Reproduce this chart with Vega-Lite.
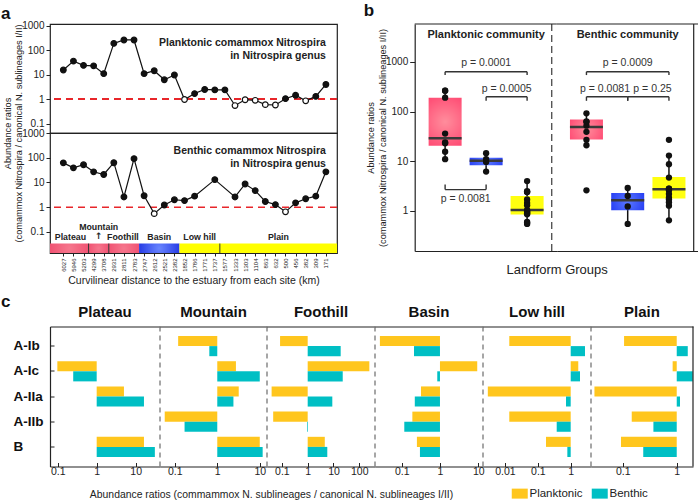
{
  "$schema": "https://vega.github.io/schema/vega-lite/v6.json",
  "padding": {"left": 1, "top": 1, "right": 0, "bottom": 0},
  "background": "white",
  "config": {
    "font": "Liberation Sans",
    "view": {"stroke": "#222", "strokeWidth": 1.2},
    "axis": {"labelFont": "Liberation Sans", "titleFont": "Liberation Sans", "labelColor": "#222", "tickColor": "#222", "domainColor": "#222", "titleColor": "#222", "grid": false, "titleFontWeight": "normal", "labelFontSize": 10, "titleFontSize": 10, "labelOverlap": false},
    "title": {"font": "Liberation Sans", "color": "#111"},
    "legend": {"labelFont": "Liberation Sans"}
  },
  "datasets": {
    "sites": [
      {"idx":1,"km":6027,"land":"Plateau","g":1,"P":15.5,"B":62},
      {"idx":2,"km":5946,"land":"Plateau","g":1,"P":36,"B":39},
      {"idx":3,"km":5203,"land":"Plateau","g":1,"P":24,"B":52},
      {"idx":4,"km":4299,"land":"Mountain","g":1,"P":23,"B":27},
      {"idx":5,"km":3708,"land":"Mountain","g":1,"P":11,"B":21},
      {"idx":6,"km":2931,"land":"Foothill","g":1,"P":190,"B":63},
      {"idx":7,"km":2811,"land":"Foothill","g":1,"P":262,"B":2.6},
      {"idx":8,"km":2783,"land":"Foothill","g":1,"P":262,"B":92},
      {"idx":9,"km":2747,"land":"Basin","g":2,"P":11,"B":2.9},
      {"idx":10,"km":2612,"land":"Basin","g":2,"P":14.5,"B":0.55},
      {"idx":11,"km":2521,"land":"Basin","g":2,"P":6.2,"B":1.23},
      {"idx":12,"km":2382,"land":"Basin","g":2,"P":9.7,"B":2.0},
      {"idx":13,"km":1852,"land":"Low hill","g":3,"P":0.97,"B":1.85},
      {"idx":14,"km":1786,"land":"Low hill","g":3,"P":1.7,"B":2.8},
      {"idx":15,"km":1771,"land":"Low hill","g":3,"P":2.5,"B":null},
      {"idx":16,"km":1737,"land":"Low hill","g":3,"P":2.4,"B":13},
      {"idx":17,"km":1577,"land":"Plain","g":3,"P":2.4,"B":null},
      {"idx":18,"km":1333,"land":"Plain","g":3,"P":0.55,"B":2.6},
      {"idx":19,"km":1303,"land":"Plain","g":3,"P":0.95,"B":8.7},
      {"idx":20,"km":1104,"land":"Plain","g":3,"P":0.9,"B":4.7},
      {"idx":21,"km":863,"land":"Plain","g":3,"P":0.6,"B":1.7},
      {"idx":22,"km":632,"land":"Plain","g":3,"P":0.58,"B":1.28},
      {"idx":23,"km":500,"land":"Plain","g":3,"P":1.05,"B":0.65},
      {"idx":24,"km":456,"land":"Plain","g":3,"P":1.45,"B":1.5},
      {"idx":25,"km":382,"land":"Plain","g":3,"P":0.86,"B":2.2},
      {"idx":26,"km":309,"land":"Plain","g":3,"P":1.3,"B":2.8},
      {"idx":27,"km":171,"land":"Plain","g":3,"P":4.0,"B":27}
    ],
    "land": [
      {"land":"Plateau","s":-0.32,"e":3.5,"m":1.7},
      {"land":"Mountain","s":3.5,"e":5.5,"m":4.5},
      {"land":"Foothill","s":5.5,"e":8.5,"m":6.9},
      {"land":"Basin","s":8.5,"e":12.5,"m":10.5},
      {"land":"Low hill","s":12.5,"e":16.5,"m":14.5},
      {"land":"Plain","s":16.5,"e":28.1,"m":22.3}
    ],
    "boxes": [
      {"comm":"P","g":1,"lo":11,"q1":20.4,"med":29,"q3":190,"hi":262},
      {"comm":"P","g":2,"lo":6.2,"q1":8.3,"med":10.2,"q3":11.7,"hi":14.5},
      {"comm":"P","g":3,"lo":0.55,"q1":0.85,"med":1.05,"q3":2.0,"hi":4.0},
      {"comm":"B","g":1,"lo":21,"q1":27.5,"med":49,"q3":69,"hi":92},
      {"comm":"B","g":2,"lo":0.55,"q1":1.04,"med":1.64,"q3":2.3,"hi":2.9},
      {"comm":"B","g":3,"lo":0.65,"q1":1.78,"med":2.75,"q3":4.8,"hi":13}
    ],
    "brackets": [
      {"comm":"P","x1":1,"x2":3,"xm":2,"y":630,"yt":540,"ly":955,"label":"p = 0.0001"},
      {"comm":"P","x1":2,"x2":3,"xm":2.5,"y":198,"yt":164,"ly":286,"label":"p = 0.0005"},
      {"comm":"P","x1":1,"x2":2,"xm":1.5,"y":2.69,"yt":3.39,"ly":1.74,"label":"p = 0.0081"},
      {"comm":"B","x1":1,"x2":3,"xm":2,"y":630,"yt":540,"ly":955,"label":"p = 0.0009"},
      {"comm":"B","x1":1,"x2":2,"xm":1.45,"y":198,"yt":164,"ly":286,"label":"p = 0.0081"},
      {"comm":"B","x1":2,"x2":3,"xm":2.6,"y":198,"yt":164,"ly":286,"label":"p = 0.25"}
    ],
    "cdata": [
      {"land":"Plateau","sub":"A-Ic","comm":"Planktonic","v":0.098},
      {"land":"Plateau","sub":"A-Ic","comm":"Benthic","v":0.25},
      {"land":"Plateau","sub":"A-IIa","comm":"Planktonic","v":5.0},
      {"land":"Plateau","sub":"A-IIa","comm":"Benthic","v":16.3},
      {"land":"Plateau","sub":"B","comm":"Planktonic","v":16.3},
      {"land":"Plateau","sub":"B","comm":"Benthic","v":31},
      {"land":"Mountain","sub":"A-Ib","comm":"Planktonic","v":0.12},
      {"land":"Mountain","sub":"A-Ib","comm":"Benthic","v":0.65},
      {"land":"Mountain","sub":"A-Ic","comm":"Planktonic","v":2.75},
      {"land":"Mountain","sub":"A-Ic","comm":"Benthic","v":10},
      {"land":"Mountain","sub":"A-IIa","comm":"Planktonic","v":3.2},
      {"land":"Mountain","sub":"A-IIa","comm":"Benthic","v":2.4},
      {"land":"Mountain","sub":"A-IIb","comm":"Planktonic","v":0.058},
      {"land":"Mountain","sub":"A-IIb","comm":"Benthic","v":0.17},
      {"land":"Mountain","sub":"B","comm":"Planktonic","v":10},
      {"land":"Mountain","sub":"B","comm":"Benthic","v":11.7},
      {"land":"Foothill","sub":"A-Ib","comm":"Planktonic","v":0.085},
      {"land":"Foothill","sub":"A-Ib","comm":"Benthic","v":19},
      {"land":"Foothill","sub":"A-Ic","comm":"Planktonic","v":245},
      {"land":"Foothill","sub":"A-Ic","comm":"Benthic","v":22.8},
      {"land":"Foothill","sub":"A-IIa","comm":"Planktonic","v":0.04},
      {"land":"Foothill","sub":"A-IIa","comm":"Benthic","v":9},
      {"land":"Foothill","sub":"A-IIb","comm":"Planktonic","v":0.046},
      {"land":"Foothill","sub":"A-IIb","comm":"Benthic","v":0.94},
      {"land":"Foothill","sub":"B","comm":"Planktonic","v":4.6},
      {"land":"Foothill","sub":"B","comm":"Benthic","v":5.75},
      {"land":"Basin","sub":"A-Ib","comm":"Planktonic","v":0.027},
      {"land":"Basin","sub":"A-Ib","comm":"Benthic","v":0.21},
      {"land":"Basin","sub":"A-Ic","comm":"Planktonic","v":9.4},
      {"land":"Basin","sub":"A-Ic","comm":"Benthic","v":0.85},
      {"land":"Basin","sub":"A-IIa","comm":"Planktonic","v":0.32},
      {"land":"Basin","sub":"A-IIa","comm":"Benthic","v":0.22},
      {"land":"Basin","sub":"A-IIb","comm":"Planktonic","v":0.19},
      {"land":"Basin","sub":"A-IIb","comm":"Benthic","v":0.117},
      {"land":"Basin","sub":"B","comm":"Planktonic","v":0.25},
      {"land":"Basin","sub":"B","comm":"Benthic","v":0.3},
      {"land":"Low hill","sub":"A-Ib","comm":"Planktonic","v":0.0135},
      {"land":"Low hill","sub":"A-Ib","comm":"Benthic","v":2.72},
      {"land":"Low hill","sub":"A-Ic","comm":"Planktonic","v":1.7},
      {"land":"Low hill","sub":"A-Ic","comm":"Benthic","v":1.92},
      {"land":"Low hill","sub":"A-IIa","comm":"Planktonic","v":0.003},
      {"land":"Low hill","sub":"A-IIa","comm":"Benthic","v":0.72},
      {"land":"Low hill","sub":"A-IIb","comm":"Planktonic","v":0.0135},
      {"land":"Low hill","sub":"A-IIb","comm":"Benthic","v":0.375},
      {"land":"Low hill","sub":"B","comm":"Planktonic","v":0.177},
      {"land":"Low hill","sub":"B","comm":"Benthic","v":0.79},
      {"land":"Plain","sub":"A-Ib","comm":"Planktonic","v":0.106},
      {"land":"Plain","sub":"A-Ib","comm":"Benthic","v":1.6},
      {"land":"Plain","sub":"A-Ic","comm":"Planktonic","v":0.84},
      {"land":"Plain","sub":"A-Ic","comm":"Benthic","v":1.98},
      {"land":"Plain","sub":"A-IIa","comm":"Planktonic","v":0.03},
      {"land":"Plain","sub":"A-IIa","comm":"Benthic","v":1.15},
      {"land":"Plain","sub":"A-IIb","comm":"Planktonic","v":0.147},
      {"land":"Plain","sub":"A-IIb","comm":"Benthic","v":0.37},
      {"land":"Plain","sub":"B","comm":"Planktonic","v":0.093},
      {"land":"Plain","sub":"B","comm":"Benthic","v":0.24}
    ]
  },
  "spacing": 5.5,
  "vconcat": [
    {
      "spacing": 24.7,
      "hconcat": [
        {
          "title": {"text": "a", "anchor": "start", "frame": "group", "dx": -49, "fontSize": 17, "fontWeight": "bold", "offset": -3},
          "bounds": "flush",
          "spacing": 0,
          "vconcat": [
            {
              "width": 287, "height": 109,
              "data": {"name": "sites"},
              "layer": [
                {"mark": {"type": "rule", "color": "#e8262b", "strokeDash": [7, 5], "strokeWidth": 1.5},
                 "encoding": {"y": {"datum": 1, "type": "quantitative", "scale": {"type": "log", "domain": [0.0417, 1175]}}}},
                {"mark": {"type": "line", "color": "#111", "strokeWidth": 1.2},
                 "encoding": {
                   "x": {"field": "idx", "type": "quantitative", "scale": {"domain": [-0.32, 28.1]}, "axis": null},
                   "y": {"field": "P", "type": "quantitative", "scale": {"type": "log", "domain": [0.0417, 1175]}, "axis": {"values": [0.1, 1, 10, 100, 1000], "format": "~g", "title": null, "tickSize": 4, "labelPadding": 2, "domain": false}}}},
                {"mark": {"type": "point", "shape": "circle", "filled": true, "size": 32, "stroke": "#111", "strokeWidth": 1.2, "opacity": 1},
                 "encoding": {
                   "x": {"field": "idx", "type": "quantitative", "scale": {"domain": [-0.32, 28.1]}, "axis": null},
                   "y": {"field": "P", "type": "quantitative", "scale": {"type": "log", "domain": [0.0417, 1175]}},
                   "fill": {"condition": {"test": "datum.P < 1", "value": "white"}, "value": "#111"}}},
                {"data": {"values": [{}]},
                 "mark": {"type": "text", "align": "right", "baseline": "middle", "fontSize": 10.5, "fontWeight": "bold", "lineHeight": 13, "lineBreak": "\n", "color": "#222", "text": "Planktonic comammox Nitrospira\nin Nitrospira genus"},
                 "encoding": {
                   "x": {"datum": 27, "type": "quantitative", "scale": {"domain": [-0.32, 28.1]}, "axis": null},
                   "y": {"datum": 206, "type": "quantitative", "scale": {"type": "log", "domain": [0.0417, 1175]}}}}
              ]
            },
            {
              "width": 287, "height": 120,
              "layer": [
                {"data": {"name": "land"}, "transform": [{"filter": "indexof(['Plateau','Mountain','Foothill'], datum.land) >= 0"}],
                 "mark": {"type": "rect", "fill": {"gradient": "radial", "x1": 0.5, "y1": 0.5, "r1": 0, "x2": 0.5, "y2": 0.5, "r2": 0.7, "stops": [{"offset": 0, "color": "#f6788e"}, {"offset": 1, "color": "#ee4468"}]}},
                 "encoding": {
                   "x": {"field": "s", "type": "quantitative", "scale": {"domain": [-0.32, 28.1]}},
                   "x2": {"field": "e"},
                   "y": {"datum": 0.034, "type": "quantitative", "scale": {"type": "log", "domain": [0.0141, 1000]}},
                   "y2": {"datum": 0.0141}}},
                {"data": {"name": "land"}, "transform": [{"filter": "datum.land == 'Basin'"}],
                 "mark": {"type": "rect", "fill": {"gradient": "radial", "x1": 0.5, "y1": 0.5, "r1": 0, "x2": 0.5, "y2": 0.5, "r2": 0.6, "stops": [{"offset": 0, "color": "#6a86ff"}, {"offset": 1, "color": "#1a2ee0"}]}},
                 "encoding": {
                   "x": {"field": "s", "type": "quantitative", "scale": {"domain": [-0.32, 28.1]}},
                   "x2": {"field": "e"},
                   "y": {"datum": 0.034, "type": "quantitative", "scale": {"type": "log", "domain": [0.0141, 1000]}},
                   "y2": {"datum": 0.0141}}},
                {"data": {"name": "land"}, "transform": [{"filter": "indexof(['Low hill','Plain'], datum.land) >= 0"}],
                 "mark": {"type": "rect", "fill": "#ffff00"},
                 "encoding": {
                   "x": {"field": "s", "type": "quantitative", "scale": {"domain": [-0.32, 28.1]}},
                   "x2": {"field": "e"},
                   "y": {"datum": 0.034, "type": "quantitative", "scale": {"type": "log", "domain": [0.0141, 1000]}},
                   "y2": {"datum": 0.0141}}},
                {"data": {"name": "land"}, "transform": [{"filter": "indexof(['Mountain','Foothill','Plain'], datum.land) >= 0"}],
                 "mark": {"type": "rule", "color": "#333", "strokeWidth": 1},
                 "encoding": {
                   "x": {"field": "s", "type": "quantitative", "scale": {"domain": [-0.32, 28.1]}},
                   "y": {"datum": 0.034, "type": "quantitative", "scale": {"type": "log", "domain": [0.0141, 1000]}},
                   "y2": {"datum": 0.0141}}},
                {"data": {"name": "land"}, "transform": [{"filter": "datum.land != 'Mountain'"}],
                 "mark": {"type": "text", "fontSize": 8.8, "fontWeight": "bold", "baseline": "middle", "color": "#222"},
                 "encoding": {
                   "x": {"field": "m", "type": "quantitative", "scale": {"domain": [-0.32, 28.1]}},
                   "y": {"datum": 0.063, "type": "quantitative", "scale": {"type": "log", "domain": [0.0141, 1000]}},
                   "text": {"field": "land"}}},
                {"data": {"name": "land"}, "transform": [{"filter": "datum.land == 'Mountain'"}],
                 "mark": {"type": "text", "fontSize": 8.8, "fontWeight": "bold", "baseline": "middle", "color": "#222"},
                 "encoding": {
                   "x": {"field": "m", "type": "quantitative", "scale": {"domain": [-0.32, 28.1]}},
                   "y": {"datum": 0.16, "type": "quantitative", "scale": {"type": "log", "domain": [0.0141, 1000]}},
                   "text": {"field": "land"}}},
                {"data": {"name": "land"}, "transform": [{"filter": "datum.land == 'Mountain'"}],
                 "mark": {"type": "text", "fontSize": 9, "fontWeight": "bold", "baseline": "middle", "color": "#222", "text": "↑", "font": "DejaVu Sans"},
                 "encoding": {
                   "x": {"field": "m", "type": "quantitative", "scale": {"domain": [-0.32, 28.1]}},
                   "y": {"datum": 0.068, "type": "quantitative", "scale": {"type": "log", "domain": [0.0141, 1000]}}}},
                {"data": {"values": [{}]},
                 "mark": {"type": "rule", "color": "#e8262b", "strokeDash": [7, 5], "strokeWidth": 1.5},
                 "encoding": {"y": {"datum": 1, "type": "quantitative", "scale": {"type": "log", "domain": [0.0141, 1000]}}}},
                {"data": {"name": "sites"}, "transform": [{"filter": "datum.B != null"}],
                 "mark": {"type": "line", "color": "#111", "strokeWidth": 1.2},
                 "encoding": {
                   "x": {"field": "idx", "type": "quantitative", "scale": {"domain": [-0.32, 28.1]},
                         "axis": {"values": [1,2,3,4,5,6,7,8,9,10,11,12,13,14,15,16,17,18,19,20,21,22,23,24,25,26,27],
                                  "tickCount": 40,
                                  "labelExpr": "['6027','5946','5203','4299','3708','2931','2811','2783','2747','2612','2521','2382','1852','1786','1771','1737','1577','1333','1303','1104','863','632','500','456','382','309','171'][datum.value - 1]",
                                  "labelAngle": -90, "labelFontSize": 6, "labelPadding": 2, "labelOverlap": false, "labelFlush": false, "tickSize": 3, "domain": false,
                                  "title": "Curvilinear distance to the estuary from each site (km)", "titleFontSize": 10.5, "titleY": 27, "titleBaseline": "middle"}},
                   "y": {"field": "B", "type": "quantitative", "scale": {"type": "log", "domain": [0.0141, 1000]},
                         "axis": {"values": [0.1, 1, 10, 100, 1000], "format": "~g", "tickSize": 4, "labelPadding": 2, "domain": false,
                                  "title": ["Abundance ratios", "(comammox Nitrospira / canonical N. sublineages I/II)"],
                                  "titleX": -38, "titleY": 0, "titleAngle": -90, "titleAlign": "center", "titleBaseline": "bottom", "titleFontSize": 9.2, "titleLineHeight": 11}}}},
                {"data": {"name": "sites"}, "transform": [{"filter": "datum.B != null"}],
                 "mark": {"type": "point", "shape": "circle", "filled": true, "size": 32, "stroke": "#111", "strokeWidth": 1.2, "opacity": 1},
                 "encoding": {
                   "x": {"field": "idx", "type": "quantitative", "scale": {"domain": [-0.32, 28.1]}},
                   "y": {"field": "B", "type": "quantitative", "scale": {"type": "log", "domain": [0.0141, 1000]}},
                   "fill": {"condition": {"test": "datum.B < 1", "value": "white"}, "value": "#111"}}},
                {"data": {"values": [{}]},
                 "mark": {"type": "text", "align": "right", "baseline": "middle", "fontSize": 10.5, "fontWeight": "bold", "lineHeight": 13, "lineBreak": "\n", "color": "#222", "text": "Benthic comammox Nitrospira\nin Nitrospira genus"},
                 "encoding": {
                   "x": {"datum": 27, "type": "quantitative", "scale": {"domain": [-0.32, 28.1]}},
                   "y": {"datum": 187, "type": "quantitative", "scale": {"type": "log", "domain": [0.0141, 1000]}}}}
              ]
            }
          ]
        },
        {
          "title": {"text": "b", "anchor": "start", "frame": "group", "dx": -51, "fontSize": 17, "fontWeight": "bold", "offset": 3.6},
          "bounds": "flush",
          "spacing": 0,
          "hconcat": [
            {
              "width": 142, "height": 227,
              "view": {"stroke": null},
              "layer": [
                {"data": {"name": "boxes"}, "transform": [{"filter": "datum.comm == 'P'"}],
                 "mark": {"type": "rule", "color": "#111", "strokeWidth": 1.5},
                 "encoding": {
                   "x": {"field": "g", "type": "quantitative", "scale": {"domain": [0.38, 3.6]},
                         "axis": {"labels": false, "ticks": false, "domain": true, "domainColor": "#222", "domainWidth": 1.2, "title": "Landform Groups", "titleFontSize": 13, "titleX": 142, "titleY": 18.5, "titleBaseline": "middle", "titleAlign": "center"}},
                   "y": {"field": "lo", "type": "quantitative", "scale": {"type": "log", "domain": [0.157, 5740]},
                         "axis": {"values": [1, 10, 100, 1000], "format": "~g", "tickSize": 5, "labelPadding": 2, "domain": true, "domainColor": "#222", "domainWidth": 1.2,
                                  "title": ["Abundance ratios", "(comammox Nitrospira / canonical N. sublineages I/II)"],
                                  "titleX": -39, "titleAngle": -90, "titleAlign": "center", "titleBaseline": "bottom", "titleFontSize": 9.2, "titleLineHeight": 11.5}},
                   "y2": {"field": "hi"}}},
                {"data": {"name": "boxes"}, "transform": [{"filter": "datum.comm == 'P' && datum.g == 1"}],
                 "mark": {"type": "bar", "width": 33, "color": {"gradient": "radial", "x1": 0.5, "y1": 0.5, "r1": 0, "x2": 0.5, "y2": 0.5, "r2": 0.7, "stops": [{"offset": 0, "color": "#ff8d9c"}, {"offset": 1, "color": "#ff3f6c"}]}},
                 "encoding": {
                   "x": {"field": "g", "type": "quantitative", "scale": {"domain": [0.38, 3.6]}},
                   "y": {"field": "q1", "type": "quantitative", "scale": {"type": "log", "domain": [0.157, 5740]}},
                   "y2": {"field": "q3"}}},
                {"data": {"name": "boxes"}, "transform": [{"filter": "datum.comm == 'P' && datum.g == 2"}],
                 "mark": {"type": "bar", "width": 33, "color": {"gradient": "radial", "x1": 0.5, "y1": 0.5, "r1": 0, "x2": 0.5, "y2": 0.5, "r2": 0.7, "stops": [{"offset": 0, "color": "#5a78ff"}, {"offset": 1, "color": "#1a30f0"}]}},
                 "encoding": {
                   "x": {"field": "g", "type": "quantitative", "scale": {"domain": [0.38, 3.6]}},
                   "y": {"field": "q1", "type": "quantitative", "scale": {"type": "log", "domain": [0.157, 5740]}},
                   "y2": {"field": "q3"}}},
                {"data": {"name": "boxes"}, "transform": [{"filter": "datum.comm == 'P' && datum.g == 3"}],
                 "mark": {"type": "bar", "width": 33, "color": "#ffff10"},
                 "encoding": {
                   "x": {"field": "g", "type": "quantitative", "scale": {"domain": [0.38, 3.6]}},
                   "y": {"field": "q1", "type": "quantitative", "scale": {"type": "log", "domain": [0.157, 5740]}},
                   "y2": {"field": "q3"}}},
                {"data": {"name": "boxes"}, "transform": [{"filter": "datum.comm == 'P'"}],
                 "mark": {"type": "tick", "orient": "horizontal", "size": 33, "thickness": 2.5, "color": "#3a3a3a", "opacity": 1},
                 "encoding": {
                   "x": {"field": "g", "type": "quantitative", "scale": {"domain": [0.38, 3.6]}},
                   "y": {"field": "med", "type": "quantitative", "scale": {"type": "log", "domain": [0.157, 5740]}}}},
                {"data": {"name": "sites"},
                 "mark": {"type": "circle", "size": 40, "color": "#111", "opacity": 1},
                 "encoding": {
                   "x": {"field": "g", "type": "quantitative", "scale": {"domain": [0.38, 3.6]}},
                   "y": {"field": "P", "type": "quantitative", "scale": {"type": "log", "domain": [0.157, 5740]}}}},
                {"data": {"name": "brackets"}, "transform": [{"filter": "datum.comm == 'P'"}],
                 "mark": {"type": "rule", "color": "#333", "strokeWidth": 1.4},
                 "encoding": {
                   "x": {"field": "x1", "type": "quantitative", "scale": {"domain": [0.38, 3.6]}},
                   "x2": {"field": "x2"},
                   "y": {"field": "y", "type": "quantitative", "scale": {"type": "log", "domain": [0.157, 5740]}}}},
                {"data": {"name": "brackets"}, "transform": [{"filter": "datum.comm == 'P'"}],
                 "mark": {"type": "rule", "color": "#333", "strokeWidth": 1.4},
                 "encoding": {
                   "x": {"field": "x1", "type": "quantitative", "scale": {"domain": [0.38, 3.6]}},
                   "y": {"field": "y", "type": "quantitative", "scale": {"type": "log", "domain": [0.157, 5740]}},
                   "y2": {"field": "yt"}}},
                {"data": {"name": "brackets"}, "transform": [{"filter": "datum.comm == 'P'"}],
                 "mark": {"type": "rule", "color": "#333", "strokeWidth": 1.4},
                 "encoding": {
                   "x": {"field": "x2", "type": "quantitative", "scale": {"domain": [0.38, 3.6]}},
                   "y": {"field": "y", "type": "quantitative", "scale": {"type": "log", "domain": [0.157, 5740]}},
                   "y2": {"field": "yt"}}},
                {"data": {"name": "brackets"}, "transform": [{"filter": "datum.comm == 'P'"}],
                 "mark": {"type": "text", "fontSize": 10.5, "color": "#333", "baseline": "middle"},
                 "encoding": {
                   "x": {"field": "xm", "type": "quantitative", "scale": {"domain": [0.38, 3.6]}},
                   "y": {"field": "ly", "type": "quantitative", "scale": {"type": "log", "domain": [0.157, 5740]}},
                   "text": {"field": "label"}}},
                {"data": {"values": [{}]},
                 "mark": {"type": "rule", "color": "#555", "strokeDash": [7, 4], "strokeWidth": 1.4},
                 "encoding": {"x": {"datum": 3.6, "type": "quantitative", "scale": {"domain": [0.38, 3.6]}}}},
                {"data": {"values": [{}]},
                 "mark": {"type": "rule", "color": "#222", "strokeWidth": 1.2},
                 "encoding": {"y": {"datum": 5740, "type": "quantitative", "scale": {"type": "log", "domain": [0.157, 5740]}}}},
                {"data": {"values": [{}]},
                 "mark": {"type": "text", "fontSize": 11, "fontWeight": "bold", "color": "#222", "baseline": "middle", "text": "Planktonic community"},
                 "encoding": {
                   "x": {"datum": 2, "type": "quantitative", "scale": {"domain": [0.38, 3.6]}},
                   "y": {"datum": 3450, "type": "quantitative", "scale": {"type": "log", "domain": [0.157, 5740]}}}}
              ]
            },
            {
              "width": 142, "height": 227,
              "view": {"stroke": null},
              "layer": [
                {"data": {"name": "boxes"}, "transform": [{"filter": "datum.comm == 'B'"}],
                 "mark": {"type": "rule", "color": "#111", "strokeWidth": 1.5},
                 "encoding": {
                   "x": {"field": "g", "type": "quantitative", "scale": {"domain": [0.4, 3.6]},
                         "axis": {"labels": false, "ticks": false, "domain": true, "domainColor": "#222", "domainWidth": 1.2, "title": null}},
                   "y": {"field": "lo", "type": "quantitative", "scale": {"type": "log", "domain": [0.157, 5740]}, "axis": null},
                   "y2": {"field": "hi"}}},
                {"data": {"name": "boxes"}, "transform": [{"filter": "datum.comm == 'B' && datum.g == 1"}],
                 "mark": {"type": "bar", "width": 33, "color": {"gradient": "radial", "x1": 0.5, "y1": 0.5, "r1": 0, "x2": 0.5, "y2": 0.5, "r2": 0.7, "stops": [{"offset": 0, "color": "#ff8d9c"}, {"offset": 1, "color": "#ff3f6c"}]}},
                 "encoding": {
                   "x": {"field": "g", "type": "quantitative", "scale": {"domain": [0.4, 3.6]}},
                   "y": {"field": "q1", "type": "quantitative", "scale": {"type": "log", "domain": [0.157, 5740]}, "axis": null},
                   "y2": {"field": "q3"}}},
                {"data": {"name": "boxes"}, "transform": [{"filter": "datum.comm == 'B' && datum.g == 2"}],
                 "mark": {"type": "bar", "width": 33, "color": {"gradient": "radial", "x1": 0.5, "y1": 0.5, "r1": 0, "x2": 0.5, "y2": 0.5, "r2": 0.7, "stops": [{"offset": 0, "color": "#5a78ff"}, {"offset": 1, "color": "#1a30f0"}]}},
                 "encoding": {
                   "x": {"field": "g", "type": "quantitative", "scale": {"domain": [0.4, 3.6]}},
                   "y": {"field": "q1", "type": "quantitative", "scale": {"type": "log", "domain": [0.157, 5740]}, "axis": null},
                   "y2": {"field": "q3"}}},
                {"data": {"name": "boxes"}, "transform": [{"filter": "datum.comm == 'B' && datum.g == 3"}],
                 "mark": {"type": "bar", "width": 33, "color": "#ffff10"},
                 "encoding": {
                   "x": {"field": "g", "type": "quantitative", "scale": {"domain": [0.4, 3.6]}},
                   "y": {"field": "q1", "type": "quantitative", "scale": {"type": "log", "domain": [0.157, 5740]}, "axis": null},
                   "y2": {"field": "q3"}}},
                {"data": {"name": "boxes"}, "transform": [{"filter": "datum.comm == 'B'"}],
                 "mark": {"type": "tick", "orient": "horizontal", "size": 33, "thickness": 2.5, "color": "#3a3a3a", "opacity": 1},
                 "encoding": {
                   "x": {"field": "g", "type": "quantitative", "scale": {"domain": [0.4, 3.6]}},
                   "y": {"field": "med", "type": "quantitative", "scale": {"type": "log", "domain": [0.157, 5740]}, "axis": null}}},
                {"data": {"name": "sites"},
                 "mark": {"type": "circle", "size": 40, "color": "#111", "opacity": 1},
                 "encoding": {
                   "x": {"field": "g", "type": "quantitative", "scale": {"domain": [0.4, 3.6]}},
                   "y": {"field": "B", "type": "quantitative", "scale": {"type": "log", "domain": [0.157, 5740]}, "axis": null}}},
                {"data": {"name": "brackets"}, "transform": [{"filter": "datum.comm == 'B'"}],
                 "mark": {"type": "rule", "color": "#333", "strokeWidth": 1.4},
                 "encoding": {
                   "x": {"field": "x1", "type": "quantitative", "scale": {"domain": [0.4, 3.6]}},
                   "x2": {"field": "x2"},
                   "y": {"field": "y", "type": "quantitative", "scale": {"type": "log", "domain": [0.157, 5740]}, "axis": null}}},
                {"data": {"name": "brackets"}, "transform": [{"filter": "datum.comm == 'B'"}],
                 "mark": {"type": "rule", "color": "#333", "strokeWidth": 1.4},
                 "encoding": {
                   "x": {"field": "x1", "type": "quantitative", "scale": {"domain": [0.4, 3.6]}},
                   "y": {"field": "y", "type": "quantitative", "scale": {"type": "log", "domain": [0.157, 5740]}, "axis": null},
                   "y2": {"field": "yt"}}},
                {"data": {"name": "brackets"}, "transform": [{"filter": "datum.comm == 'B'"}],
                 "mark": {"type": "rule", "color": "#333", "strokeWidth": 1.4},
                 "encoding": {
                   "x": {"field": "x2", "type": "quantitative", "scale": {"domain": [0.4, 3.6]}},
                   "y": {"field": "y", "type": "quantitative", "scale": {"type": "log", "domain": [0.157, 5740]}, "axis": null},
                   "y2": {"field": "yt"}}},
                {"data": {"name": "brackets"}, "transform": [{"filter": "datum.comm == 'B'"}],
                 "mark": {"type": "text", "fontSize": 10.5, "color": "#333", "baseline": "middle"},
                 "encoding": {
                   "x": {"field": "xm", "type": "quantitative", "scale": {"domain": [0.4, 3.6]}},
                   "y": {"field": "ly", "type": "quantitative", "scale": {"type": "log", "domain": [0.157, 5740]}, "axis": null},
                   "text": {"field": "label"}}},
                {"data": {"values": [{}]},
                 "mark": {"type": "rule", "color": "#222", "strokeWidth": 1.2},
                 "encoding": {"x": {"datum": 3.6, "type": "quantitative", "scale": {"domain": [0.4, 3.6]}}}},
                {"data": {"values": [{}]},
                 "mark": {"type": "rule", "color": "#222", "strokeWidth": 1.2},
                 "encoding": {"y": {"datum": 5740, "type": "quantitative", "scale": {"type": "log", "domain": [0.157, 5740]}, "axis": null}}},
                {"data": {"values": [{}]},
                 "mark": {"type": "text", "fontSize": 11, "fontWeight": "bold", "color": "#222", "baseline": "middle", "text": "Benthic community"},
                 "encoding": {
                   "x": {"datum": 2, "type": "quantitative", "scale": {"domain": [0.4, 3.6]}},
                   "y": {"datum": 3450, "type": "quantitative", "scale": {"type": "log", "domain": [0.157, 5740]}, "axis": null}}}
              ]
            }
          ]
        }
      ]
    },
    {
      "title": {"text": "c", "anchor": "start", "frame": "group", "dx": -49, "fontSize": 17, "fontWeight": "bold", "offset": -6},
      "bounds": "flush",
      "spacing": 0,
      "resolve": {"legend": {"color": "independent"}},
      "hconcat": [
        {
          "width": 110, "height": 140,
          "view": {"stroke": null},
          "title": {"text": "Plateau", "fontSize": 15, "fontWeight": "bold", "offset": 6, "frame": "group"},
          "data": {"name": "cdata"},
          "layer": [
            {"transform": [{"filter": "datum.land == 'Plateau'"}],
             "mark": {"type": "bar"},
             "encoding": {
               "y": {"field": "sub", "type": "nominal", "scale": {"domain": ["A-Ib","A-Ic","A-IIa","A-IIb","B"], "paddingInner": 0.2, "paddingOuter": 0.378},
                     "axis": {"title": null, "labelFontSize": 13.5, "labelFontWeight": "bold", "labelColor": "#111", "labelAlign": "left", "labelPadding": 41, "tickSize": -4, "domain": true, "domainColor": "#222", "domainWidth": 1.2}},
               "yOffset": {"field": "comm", "type": "nominal", "scale": {"domain": ["Planktonic","Benthic"]}},
               "x": {"field": "v", "type": "quantitative", "scale": {"type": "log", "domain": [0.0635, 42]},
                     "axis": {"values": [0.1, 1, 10], "format": "~g", "labelFontSize": 10.5, "tickSize": -4, "labelPadding": 4, "domain": true, "domainColor": "#222", "domainWidth": 1.2,
                              "title": "Abundance ratios (commammox N. sublineages / canonical N. sublineages I/II)", "titleFontSize": 10.4, "titleX": 221, "titleY": 27.5, "titleBaseline": "middle", "titleAlign": "center"}},
               "x2": {"datum": 1},
               "color": {"field": "comm", "type": "nominal", "scale": {"domain": ["Planktonic","Benthic"], "range": ["#ffc61e","#00bfc4"]}, "legend": null}}},
            {"data": {"values": [{}]},
             "mark": {"type": "rule", "color": "#777", "strokeDash": [5, 4], "strokeWidth": 1.3},
             "encoding": {"x": {"datum": 42, "type": "quantitative", "scale": {"type": "log", "domain": [0.0635, 42]},
                                "axis": {"orient": "top", "labels": false, "ticks": false, "domain": true, "domainColor": "#222", "domainWidth": 1.2, "title": null}}}}
          ],
          "resolve": {"axis": {"x": "independent"}}
        },
        {
          "width": 107, "height": 140,
          "view": {"stroke": null},
          "title": {"text": "Mountain", "fontSize": 15, "fontWeight": "bold", "offset": 6, "frame": "group"},
          "data": {"name": "cdata"},
          "layer": [
            {"transform": [{"filter": "datum.land == 'Mountain'"}],
             "mark": {"type": "bar"},
             "encoding": {
               "y": {"field": "sub", "type": "nominal", "scale": {"domain": ["A-Ib","A-Ic","A-IIa","A-IIb","B"], "paddingInner": 0.2, "paddingOuter": 0.378}, "axis": null},
               "yOffset": {"field": "comm", "type": "nominal", "scale": {"domain": ["Planktonic","Benthic"]}},
               "x": {"field": "v", "type": "quantitative", "scale": {"type": "log", "domain": [0.0449, 14.8]},
                     "axis": {"values": [0.1, 1, 10], "format": "~g", "labelFontSize": 10.5, "tickSize": -4, "labelPadding": 4, "domain": true, "domainColor": "#222", "domainWidth": 1.2, "title": null}},
               "x2": {"datum": 1},
               "color": {"field": "comm", "type": "nominal", "scale": {"domain": ["Planktonic","Benthic"], "range": ["#ffc61e","#00bfc4"]}, "legend": null}}},
            {"data": {"values": [{}]},
             "mark": {"type": "rule", "color": "#777", "strokeDash": [5, 4], "strokeWidth": 1.3},
             "encoding": {"x": {"datum": 14.8, "type": "quantitative", "scale": {"type": "log", "domain": [0.0449, 14.8]},
                                "axis": {"orient": "top", "labels": false, "ticks": false, "domain": true, "domainColor": "#222", "domainWidth": 1.2, "title": null}}}}
          ],
          "resolve": {"axis": {"x": "independent"}}
        },
        {
          "width": 108, "height": 140,
          "view": {"stroke": null},
          "title": {"text": "Foothill", "fontSize": 15, "fontWeight": "bold", "offset": 6, "frame": "group"},
          "data": {"name": "cdata"},
          "layer": [
            {"transform": [{"filter": "datum.land == 'Foothill'"}],
             "mark": {"type": "bar"},
             "encoding": {
               "y": {"field": "sub", "type": "nominal", "scale": {"domain": ["A-Ib","A-Ic","A-IIa","A-IIb","B"], "paddingInner": 0.2, "paddingOuter": 0.378}, "axis": null},
               "yOffset": {"field": "comm", "type": "nominal", "scale": {"domain": ["Planktonic","Benthic"]}},
               "x": {"field": "v", "type": "quantitative", "scale": {"type": "log", "domain": [0.0265, 406]},
                     "axis": {"values": [0.1, 1, 10, 100], "format": "~g", "labelFontSize": 10.5, "tickSize": -4, "labelPadding": 4, "domain": true, "domainColor": "#222", "domainWidth": 1.2, "title": null}},
               "x2": {"datum": 1},
               "color": {"field": "comm", "type": "nominal", "scale": {"domain": ["Planktonic","Benthic"], "range": ["#ffc61e","#00bfc4"]}, "legend": null}}},
            {"data": {"values": [{}]},
             "mark": {"type": "rule", "color": "#777", "strokeDash": [5, 4], "strokeWidth": 1.3},
             "encoding": {"x": {"datum": 406, "type": "quantitative", "scale": {"type": "log", "domain": [0.0265, 406]},
                                "axis": {"orient": "top", "labels": false, "ticks": false, "domain": true, "domainColor": "#222", "domainWidth": 1.2, "title": null}}}}
          ],
          "resolve": {"axis": {"x": "independent"}}
        },
        {
          "width": 108, "height": 140,
          "view": {"stroke": null},
          "title": {"text": "Basin", "fontSize": 15, "fontWeight": "bold", "offset": 6, "frame": "group"},
          "data": {"name": "cdata"},
          "layer": [
            {"transform": [{"filter": "datum.land == 'Basin'"}],
             "mark": {"type": "bar"},
             "encoding": {
               "y": {"field": "sub", "type": "nominal", "scale": {"domain": ["A-Ib","A-Ic","A-IIa","A-IIb","B"], "paddingInner": 0.2, "paddingOuter": 0.378}, "axis": null},
               "yOffset": {"field": "comm", "type": "nominal", "scale": {"domain": ["Planktonic","Benthic"]}},
               "x": {"field": "v", "type": "quantitative", "scale": {"type": "log", "domain": [0.0201, 13.3]},
                     "axis": {"values": [0.1, 1, 10], "format": "~g", "labelFontSize": 10.5, "tickSize": -4, "labelPadding": 4, "domain": true, "domainColor": "#222", "domainWidth": 1.2, "title": null}},
               "x2": {"datum": 1},
               "color": {"field": "comm", "type": "nominal", "scale": {"domain": ["Planktonic","Benthic"], "range": ["#ffc61e","#00bfc4"]}, "legend": null}}},
            {"data": {"values": [{}]},
             "mark": {"type": "rule", "color": "#777", "strokeDash": [5, 4], "strokeWidth": 1.3},
             "encoding": {"x": {"datum": 13.3, "type": "quantitative", "scale": {"type": "log", "domain": [0.0201, 13.3]},
                                "axis": {"orient": "top", "labels": false, "ticks": false, "domain": true, "domainColor": "#222", "domainWidth": 1.2, "title": null}}}}
          ],
          "resolve": {"axis": {"x": "independent"}}
        },
        {
          "width": 108, "height": 140,
          "view": {"stroke": null},
          "title": {"text": "Low hill", "fontSize": 15, "fontWeight": "bold", "offset": 6, "frame": "group"},
          "data": {"name": "cdata"},
          "layer": [
            {"transform": [{"filter": "datum.land == 'Low hill'"}],
             "mark": {"type": "bar"},
             "encoding": {
               "y": {"field": "sub", "type": "nominal", "scale": {"domain": ["A-Ib","A-Ic","A-IIa","A-IIb","B"], "paddingInner": 0.2, "paddingOuter": 0.378}, "axis": null},
               "yOffset": {"field": "comm", "type": "nominal", "scale": {"domain": ["Planktonic","Benthic"]}},
               "x": {"field": "v", "type": "quantitative", "scale": {"type": "log", "domain": [0.00214, 4.15]},
                     "axis": {"values": [0.01, 0.1, 1], "format": "~g", "labelFontSize": 10.5, "tickSize": -4, "labelPadding": 4, "domain": true, "domainColor": "#222", "domainWidth": 1.2, "title": null}},
               "x2": {"datum": 1},
               "color": {"field": "comm", "type": "nominal", "scale": {"domain": ["Planktonic","Benthic"], "range": ["#ffc61e","#00bfc4"]}, "legend": null}}},
            {"data": {"values": [{}]},
             "mark": {"type": "rule", "color": "#777", "strokeDash": [5, 4], "strokeWidth": 1.3},
             "encoding": {"x": {"datum": 4.15, "type": "quantitative", "scale": {"type": "log", "domain": [0.00214, 4.15]},
                                "axis": {"orient": "top", "labels": false, "ticks": false, "domain": true, "domainColor": "#222", "domainWidth": 1.2, "title": null}}}}
          ],
          "resolve": {"axis": {"x": "independent"}}
        },
        {
          "width": 102, "height": 140,
          "view": {"stroke": null},
          "title": {"text": "Plain", "fontSize": 15, "fontWeight": "bold", "offset": 6, "frame": "group"},
          "data": {"name": "cdata"},
          "layer": [
            {"transform": [{"filter": "datum.land == 'Plain'"}],
             "mark": {"type": "bar"},
             "encoding": {
               "y": {"field": "sub", "type": "nominal", "scale": {"domain": ["A-Ib","A-Ic","A-IIa","A-IIb","B"], "paddingInner": 0.2, "paddingOuter": 0.378}, "axis": null},
               "yOffset": {"field": "comm", "type": "nominal", "scale": {"domain": ["Planktonic","Benthic"]}},
               "x": {"field": "v", "type": "quantitative", "scale": {"type": "log", "domain": [0.0259, 2.0]},
                     "axis": {"values": [0.1, 1], "format": "~g", "labelFontSize": 10.5, "tickSize": -4, "labelPadding": 4, "domain": true, "domainColor": "#222", "domainWidth": 1.2, "title": null}},
               "x2": {"datum": 1},
               "color": {"field": "comm", "type": "nominal", "scale": {"domain": ["Planktonic","Benthic"], "range": ["#ffc61e","#00bfc4"]},
                         "legend": {"orient": "none", "legendX": -77, "legendY": 161, "direction": "horizontal", "title": null, "symbolType": "M-1.6,-1H1.6V1H-1.6Z", "symbolSize": 100, "symbolStrokeWidth": 0, "labelFontSize": 11.5, "labelColor": "#222", "columnPadding": 8, "labelOffset": 4}}}},
            {"data": {"values": [{}]},
             "mark": {"type": "rule", "color": "#222", "strokeWidth": 1.2},
             "encoding": {"x": {"datum": 2.0, "type": "quantitative", "scale": {"type": "log", "domain": [0.0259, 2.0]},
                                "axis": {"orient": "top", "labels": false, "ticks": false, "domain": true, "domainColor": "#222", "domainWidth": 1.2, "title": null}}}}
          ],
          "resolve": {"axis": {"x": "independent"}}
        }
      ]
    }
  ]
}
